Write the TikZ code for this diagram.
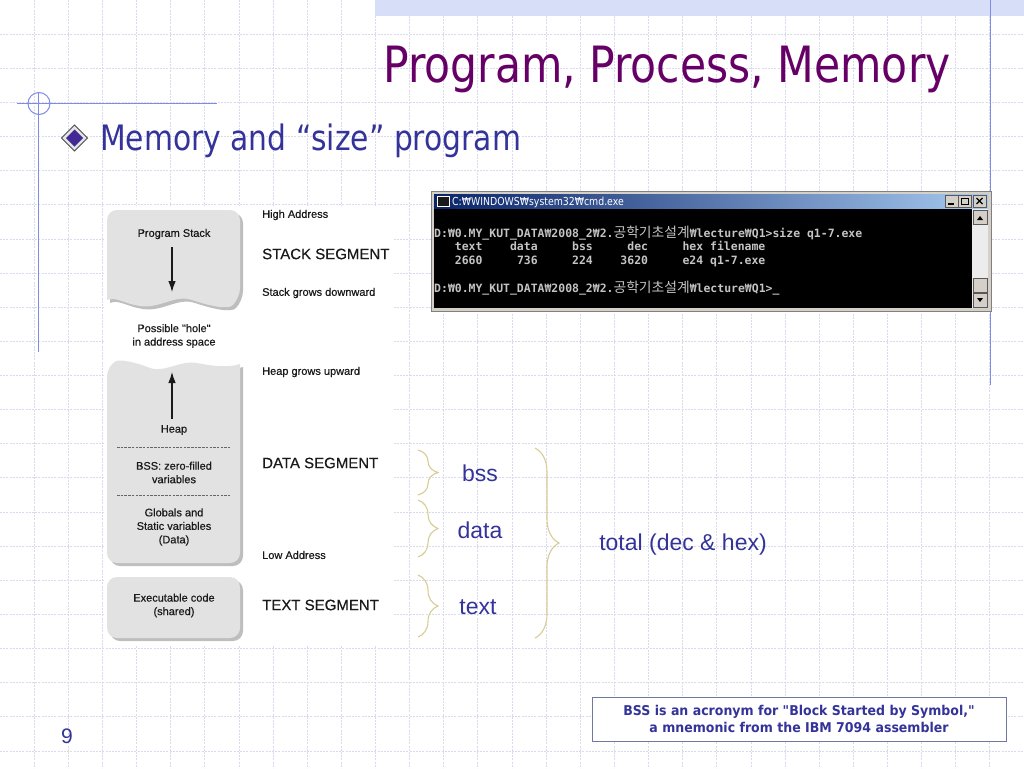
\documentclass[tikz,border=0pt]{standalone}
\usepackage{fontspec}
\setmainfont{DejaVu Sans}
\setmonofont{DejaVu Sans Mono}
\newfontfamily\tahoma{DejaVu Sans}[FakeStretch=0.85]
\newfontfamily\tahomawide{DejaVu Sans}[FakeStretch=0.93]
\newfontfamily\arial{Liberation Sans}
\newfontfamily\arialscan{Liberation Sans}[FakeBold=0.5]
\newfontfamily\hangul{Noto Sans CJK KR}
\usetikzlibrary{arrows.meta,decorations.pathreplacing}
\definecolor{titlepurple}{HTML}{660066}
\definecolor{navy}{HTML}{333399}
\definecolor{gridblue}{HTML}{DADAEF}
\definecolor{bandblue}{HTML}{D7DEF7}
\definecolor{decoblue}{HTML}{7F8CE6}
\definecolor{memgray}{HTML}{E2E2E2}
\definecolor{memshade}{HTML}{BEBEBE}
\definecolor{memink}{HTML}{1A1A1A}
\definecolor{bracetan}{HTML}{D9CC94}
\definecolor{winblue}{HTML}{0A246A}
\definecolor{winlight}{HTML}{A6CAF0}
\definecolor{wingray}{HTML}{D4D0C8}
\definecolor{consolegray}{HTML}{C4C4C4}
\definecolor{noteedge}{HTML}{7078A0}
\newcommand\hanword[1]{{\mdseries\fontsize{13.8}{14}\hangul #1}}
\begin{document}
\begin{tikzpicture}[x=1pt,y=-1pt,
    gridline/.style={gridblue,line width=0.8pt,dash pattern=on 2pt off 1.2pt},
    deco/.style={decoblue,line width=1pt},
    titletext/.style={font=\tahoma\fontsize{50}{60}\selectfont,text=titlepurple,inner sep=0pt},
    subtext/.style={font=\tahoma\fontsize{35}{40}\selectfont,text=navy,inner sep=0pt},
    memshape/.style={fill=memgray},
    memshadow/.style={fill=memshade},
    memlabel/.style={font=\arialscan\fontsize{11}{13.5}\selectfont,text=memink,align=center,inner sep=0pt},
    sidelabel/.style={memlabel,anchor=west},
    seglabel/.style={font=\arialscan\fontsize{15}{17}\selectfont,text=memink,anchor=west,inner sep=0pt},
    memarrow/.style={memink,line width=1.1pt,-{Latex[length=11pt,width=7.5pt]}},
    memdash/.style={gray!80!black,line width=0.6pt,dash pattern=on 2.5pt off 1.2pt},
    winbtn/.style={fill=wingray,draw=gray!70!black,line width=0.6pt},
    wintitle/.style={font=\tahoma\fontsize{11}{12}\selectfont,text=white,inner sep=0pt,anchor=base west},
    console/.style={font=\ttfamily\bfseries\fontsize{11.46}{14}\selectfont,text=consolegray,inner sep=0pt,anchor=base west},
    tanbrace/.style={draw=bracetan,line width=1.1pt,decorate,decoration={brace,amplitude=#1}},
    sizelabel/.style={font=\arial\fontsize{23}{26}\selectfont,text=navy,inner sep=0pt},
    notebox/.style={draw=noteedge,fill=white,line width=0.8pt,minimum width=414pt,minimum height=44pt,
        align=center,font=\tahomawide\bfseries\fontsize{13.5}{17}\selectfont,text=navy,inner sep=0pt},
    pagenum/.style={font=\arial\fontsize{21}{24}\selectfont,text=navy,inner sep=0pt}]
    \def\cell{34.133}
    \useasboundingbox (0,0) rectangle (1024,768);
    \fill[white] (0,0) rectangle (1024,768);
    %% slide grid
    \foreach \i in {1,...,29}
        \draw[gridline] ({\i*\cell},0) -- ({\i*\cell},768);
    \foreach \j in {1,...,22}
        \draw[gridline] (0,{\j*\cell}) -- (1024,{\j*\cell});
    %% template decoration
    \fill[bandblue] (375,0) rectangle (1024,16);
    \draw[deco] (990,0) -- (990,385);
    \draw[deco] (17,103) -- (217,103);
    \draw[deco] (38,93) -- (38,352);
    \draw[deco] (39,103.5) circle (11);
    %% title and bullet
    \node[titletext,anchor=base west] (title) at (383,82) {Program, Process, Memory};
    \filldraw[fill=gray!20,draw=gray!60!black,line width=0.8pt] (74.5,125) -- (87.5,138) -- (74.5,151) -- (61.5,138) -- cycle;
    \fill[fill=navy!80!violet] (74.5,129.5) -- (83,138) -- (74.5,146.5) -- (66,138) -- cycle;
    \node[subtext,anchor=base west] (sub) at (100,150) {Memory and “size” program};
    %% memory layout picture
    \fill[white] (104,206) rectangle (393,645);
    \def\stackoutline{(107,300) [rounded corners=10pt] -- (107,210) -- (240,210) -- (240,298) [sharp corners]
        .. controls (228,310) and (210,306) .. (192,300) .. controls (175,294) and (160,309) .. (140,306)
        .. controls (125,304) and (115,296) .. (107,300) -- cycle}
    \def\heapoutline{(107,366) .. controls (120,359) and (135,362) .. (150,368) .. controls (165,373) and (180,360) .. (197,363)
        .. controls (212,366) and (228,368) .. (240,364) [rounded corners=10pt] -- (240,563) -- (107,563) -- cycle}
    \def\codeoutline{[rounded corners=10pt] (107,577) rectangle (240,638)}
    \path[memshadow,shift={(3,3)}] \stackoutline;
    \path[memshadow,shift={(3,3)}] \heapoutline;
    \path[memshadow,shift={(3,3)}] \codeoutline;
    \path[memshape] \stackoutline;
    \path[memshape] \heapoutline;
    \path[memshape] \codeoutline;
    \node[memlabel] (stacklbl) at (174,234) {Program Stack};
    \coordinate (stacktip) at (172,292);
    \draw[memarrow] (stacklbl.south -| stacktip) ++(0,8) -- (stacktip);
    \node[memlabel] (hole) at (174,336) {Possible "hole"\\in address space};
    \node[memlabel] (heaplbl) at (174,430) {Heap};
    \coordinate (heaptip) at (172,372);
    \draw[memarrow] (heaplbl.north -| heaptip) ++(0,-6) -- (heaptip);
    \draw[memdash] (117,447) -- (230,447);
    \node[memlabel] (bsslbl) at (174,472.5) {BSS: zero-filled\\variables};
    \draw[memdash] (117,495) -- (230,495);
    \node[memlabel] (globals) at (174,527) {Globals and\\Static variables\\(Data)};
    \node[memlabel] (exec) at (174,605.5) {Executable code\\(shared)};
    \node[sidelabel] (high) at (262,215) {High Address};
    \node[seglabel] (stackseg) at (262,254) {STACK SEGMENT};
    \node[sidelabel] (down) at (262,293) {Stack grows downward};
    \node[sidelabel] (up) at (262,372) {Heap grows upward};
    \node[seglabel] (dataseg) at (262,463) {DATA SEGMENT};
    \node[sidelabel] (low) at (262,555) {Low Address};
    \node[seglabel] (textseg) at (262,605) {TEXT SEGMENT};
    %% console window
    \fill[wingray] (431,191) rectangle (991,311);
    \draw[gray] (431,191) rectangle (991,311);
    \shade[left color=winblue,right color=winlight] (434,194) rectangle (988,208);
    \fill[black] (434,209) rectangle (972,308);
    \fill[black!90] (437,196) rectangle (449,206);
    \draw[white,line width=0.5pt] (437,196) rectangle (449,206);
    \node[wintitle] (wintitle) at (452,205) {C:₩WINDOWS₩system32₩cmd.exe};
    \foreach \x in {945,958,973}
        \draw[winbtn] (\x,195) rectangle (\x+13,207);
    \draw[black,line width=1.2pt] (948,204) -- (954,204);
    \draw[black,line width=0.8pt] (961,198) rectangle (968,204);
    \draw[black,line width=1.2pt] (976.5,198) -- (982.5,204) (976.5,204) -- (982.5,198);
    \fill[gray!15] (972,209) rectangle (988,308);
    \foreach \y in {210,278,293}
        \draw[winbtn] (973,\y) rectangle (987,\y+14);
    \fill[black] (977,220) -- (983,220) -- (980,216) -- cycle;
    \fill[black] (977,298) -- (983,298) -- (980,302) -- cycle;
    \node[console] (cmdA) at (434,237) {D:₩0.MY\_KUT\_DATA₩2008\_2₩2.\hanword{공학기초설계}₩lecture₩Q1>size q1-7.exe};
    \node[console] (cmdB) at (434,250.5) {~~~text~~~~data~~~~~bss~~~~~dec~~~~~hex~filename};
    \node[console] (cmdC) at (434,264.5) {~~~2660~~~~~736~~~~~224~~~~3620~~~~~e24~q1-7.exe};
    \node[console] (cmdD) at (434,292.5) {D:₩0.MY\_KUT\_DATA₩2008\_2₩2.\hanword{공학기초설계}₩lecture₩Q1>\_};
    %% size fields
    \draw[tanbrace=20] (418,450) -- (418,495);
    \draw[tanbrace=20] (418,500) -- (418,557);
    \draw[tanbrace=20] (418,575) -- (418,637);
    \draw[tanbrace=24] (535,448) -- (535,638);
    \node[sizelabel] (bss) at (480,473) {bss};
    \node[sizelabel] (data) at (480,530) {data};
    \node[sizelabel] (text) at (478,607) {text};
    \node[sizelabel] (total) at (683,545) {total (dec \& hex)};
    %% footnote
    \node[notebox] (note) at (799,719) {BSS is an acronym for "Block Started by Symbol,"\\a mnemonic from the IBM 7094 assembler};
    \node[pagenum] (page) at (67,736) {9};
\end{tikzpicture}
\end{document}
